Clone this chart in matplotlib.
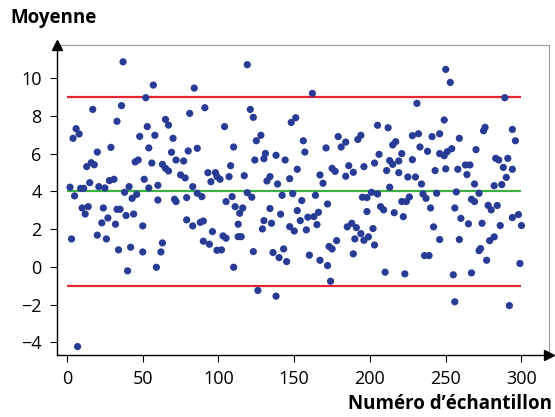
import numpy as np
import matplotlib
matplotlib.use('Agg')
import matplotlib.pyplot as plt

plt.rcParams['font.family'] = ['Open Sans', 'DejaVu Sans']

# Sample number / mean value
sample = [37, 36, 17, 33, 6, 8, 4, 48, 20, 29, 45, 47, 16, 13, 18, 28, 31, 15, 2, 9,
          11, 21, 25, 41, 38, 5, 43, 46, 10, 14, 12, 24, 33, 35, 27, 23, 32, 39, 44, 3,
          20, 26, 34, 42, 40, 7,
          57, 84, 52, 81, 91, 65, 67, 53, 58, 70, 54, 86, 69, 80, 56, 72, 77, 63, 65, 67,
          75, 78, 51, 93, 98, 95, 99, 54, 60, 83, 60, 71, 72, 79, 86, 89, 50, 79, 83, 88,
          90, 96, 63, 62, 50, 90, 94, 99, 59,
          119, 121, 123, 104, 148, 151, 128, 125, 110, 131, 130, 138, 124, 144, 108, 101,
          107, 117, 134, 132, 139, 147, 152, 119, 122, 109, 105, 111, 116, 114, 142, 149,
          134, 141, 152, 113, 130, 129, 135, 147, 150, 103, 105, 113, 115, 102, 123, 136,
          143, 140, 145, 110, 126, 138,
          162, 205, 156, 157, 179, 184, 181, 192, 194, 171, 206, 203, 175, 177, 186, 189,
          184, 196, 167, 169, 164, 155, 172, 195, 198, 201, 205, 166, 163, 159, 154, 158,
          165, 198, 185, 188, 191, 202, 194, 190, 196, 199, 203, 178, 173, 175, 160, 167,
          172, 189, 174, 207,
          250, 253, 231, 249, 212, 228, 232, 241, 246, 259, 215, 217, 233, 238, 246, 249,
          251, 254, 221, 213, 215, 219, 228, 211, 219, 225, 230, 243, 250, 258, 234, 213,
          235, 237, 244, 257, 226, 221, 224, 209, 216, 222, 240, 256, 260, 242, 246, 236,
          239, 259, 210, 223, 255, 256,
          289, 276, 275, 294, 296, 270, 283, 285, 291, 288, 294, 263, 266, 264, 290, 269,
          282, 287, 272, 267, 269, 278, 280, 284, 265, 274, 286, 294, 298, 300, 279, 282,
          272, 273, 277, 299, 267, 292]

moyenne = [10.86, 8.54, 8.34, 7.71, 7.32, 7.04, 6.81, 6.91, 6.08, 6.33, 5.56, 5.66, 5.52, 5.31, 5.41, 4.57, 4.64, 4.46, 4.22, 4.16,
           4.16, 4.25, 4.18, 4.25, 3.95, 3.76, 3.63, 3.84, 3.12, 3.19, 2.80, 3.12, 3.05, 3.05, 2.59, 2.33, 2.26, 2.72, 2.80, 1.48,
           1.68, 1.48, 0.90, 1.04, -0.21, -4.22,
           9.63, 9.47, 8.96, 8.13, 8.43, 7.81, 7.51, 7.43, 6.97, 6.81, 6.30, 6.28, 6.07, 6.14, 5.50, 5.66, 5.61, 5.43, 5.22, 5.08,
           4.87, 4.71, 4.64, 4.99, 4.99, 4.51, 4.78, 4.18, 4.32, 4.25, 3.54, 3.58, 3.46, 3.67, 3.90, 3.72, 2.17, 2.49, 2.17, 2.36,
           2.43, 1.87, 1.27, 0.79, 0.79, 1.36, 1.20, 0.88, -0.02,
           10.71, 8.34, 7.92, 7.43, 7.65, 7.90, 6.97, 6.68, 6.35, 6.01, 5.73, 5.91, 5.66, 5.66, 5.36, 4.64,
           4.78, 4.83, 4.78, 4.55, 4.39, 4.67, 5.17, 3.93, 3.69, 3.72, 3.46, 3.19, 3.12, 2.84, 3.79, 3.88,
           3.09, 2.79, 2.98, 2.26, 2.45, 2.01, 2.31, 2.13, 1.90, 1.64, 1.52, 1.60, 1.60, 0.90, 0.81, 0.76,
           0.95, 0.49, 0.28, -0.02, -1.25, -1.55,
           9.19, 7.50, 6.68, 6.08, 6.90, 6.61, 6.35, 6.75, 6.97, 6.30, 5.96, 5.50, 5.22, 5.06, 5.36, 5.01,
           4.80, 5.31, 4.87, 4.43, 3.79, 3.51, 3.33, 3.69, 3.67, 3.95, 3.86, 2.89, 2.66, 2.63, 2.45, 1.96,
           2.24, 2.93, 2.12, 2.31, 2.08, 2.03, 1.76, 1.48, 1.41, 1.59, 1.16, 1.39, 1.08, 0.95, 0.62, 0.35,
           0.07, 0.69, -0.76, 3.19,
           10.46, 9.77, 8.66, 7.78, 7.37, 6.95, 7.05, 6.90, 7.05, 6.81, 6.46, 6.63, 6.35, 6.12, 6.00, 5.89,
           6.10, 6.26, 6.00, 5.63, 5.43, 5.61, 5.68, 5.10, 4.99, 4.76, 4.76, 5.10, 5.19, 5.17, 4.39, 4.22,
           3.86, 3.63, 3.90, 3.97, 3.70, 3.46, 3.46, 3.02, 2.87, 2.66, 3.12, 3.12, 2.57, 2.12, 1.45, 0.60,
           0.60, 1.45, -0.28, -0.37, -0.42, -1.85,
           8.96, 7.39, 7.21, 7.28, 6.68, 6.21, 5.75, 5.66, 5.75, 5.27, 5.17, 5.40, 5.40, 4.89, 4.74, 4.39,
           4.30, 4.36, 3.90, 3.58, 3.46, 3.26, 3.02, 3.25, 2.28, 2.31, 2.19, 2.61, 2.77, 2.19, 1.39, 1.59,
           0.86, 0.97, 0.35, 0.18, -0.32, -2.05]

# Control lines
moy_centre = 4
lim_haute = 9
lim_basse = -1
x_debut, x_fin = 0, 300

fig = plt.figure(figsize=(5.55, 4.17), dpi=100)
ax = fig.add_axes([0.1027, 0.149, 0.886, 0.743])

ax.hlines([lim_haute, lim_basse], x_debut, x_fin, colors='#e62530', lw=1.6, zorder=2)
ax.hlines(moy_centre, x_debut, x_fin, colors='#3cb043', lw=1.6, zorder=2)
ax.scatter(sample, moyenne, s=27, color='#283c96', edgecolors='none', zorder=3)

ax.set_xlim(-6.6, 318)
ax.set_ylim(-4.66, 11.75)
ax.set_xticks([0, 50, 100, 150, 200, 250, 300])
ax.set_yticks([-4, -2, 0, 2, 4, 6, 8, 10])
ax.set_yticklabels(['\u22124', '\u22122', '0', '2', '4', '6', '8', '10'])
ax.tick_params(labelsize=13, length=5, width=0.8, direction='out', pad=6)

for s in ['top', 'right']:
    ax.spines[s].set_color('#9a9a9a')
    ax.spines[s].set_linewidth(0.8)
for s in ['left', 'bottom']:
    ax.spines[s].set_linewidth(1.0)

# arrow heads
ax.plot(0, 1, marker='^', color='black', ms=7, transform=ax.transAxes, clip_on=False, zorder=5)
ax.plot(1, 0, marker='>', color='black', ms=7, transform=ax.transAxes, clip_on=False, zorder=5)

fig.text(10 / 555, 1 - 18 / 417, 'Moyenne', fontsize=13.5, fontweight='bold', ha='left', va='center')
fig.text(552 / 555, 1 - 404 / 417, 'Numéro d\u2019échantillon', fontsize=13.5, fontweight='bold',
         ha='right', va='center')

fig.savefig('out.png', dpi=100)
